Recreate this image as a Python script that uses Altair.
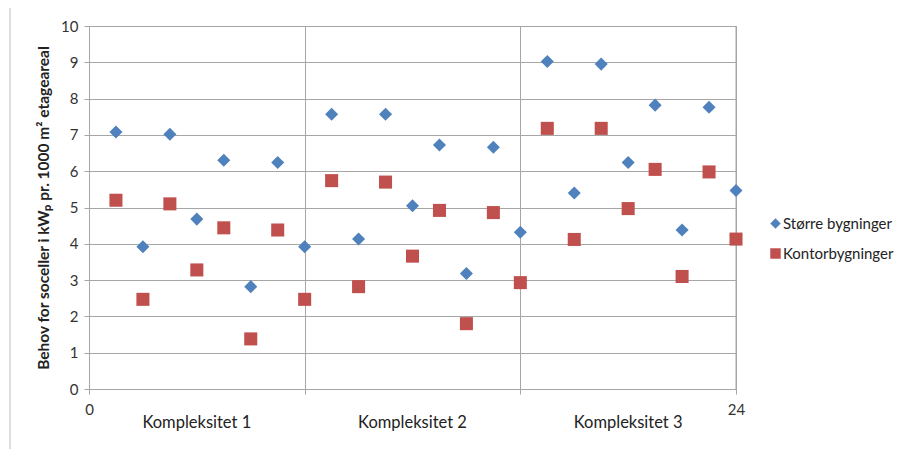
import altair as alt
import pandas as pd

x_pos = list(range(1, 25))
storre = [7.08, 3.92, 7.02, 4.68, 6.30, 2.82, 6.24, 3.92,
          7.57, 4.13, 7.57, 5.05, 6.72, 3.18, 6.66, 4.32,
          9.02, 5.40, 8.95, 6.24, 7.82, 4.38, 7.76, 5.47]
kontor = [5.20, 2.47, 5.10, 3.28, 4.44, 1.38, 4.38, 2.47,
          5.74, 2.82, 5.70, 3.66, 4.92, 1.80, 4.86, 2.93,
          7.18, 4.12, 7.18, 4.97, 6.05, 3.10, 5.98, 4.13]
series_names = ["Større bygninger", "Kontorbygninger"]
group_pos = [4, 12, 20]
group_labels = ["Kompleksitet 1", "Kompleksitet 2", "Kompleksitet 3"]

rows = []
for name, vals in zip(series_names, [storre, kontor]):
    for xv, yv in zip(x_pos, vals):
        rows.append({"x": xv, "y": yv, "serie": name})
df = pd.DataFrame(rows)
gdf = pd.DataFrame({"x": group_pos, "label": group_labels})

FONT = "Lato"
GRID = "#a6a6a6"

x_scale = alt.Scale(domain=[0, 24], nice=False, zero=False)
y_scale = alt.Scale(domain=[0, 10], nice=False)

legend_cfg = dict(title=None, orient="none", legendX=679, legendY=190,
                  labelFont=FONT, labelFontSize=15, labelColor="#222222",
                  symbolSize=110, rowPadding=14, padding=0, labelOffset=0,
                  labelLimit=200)

points = alt.Chart(df).mark_point(filled=True, opacity=1, size=170).encode(
    x=alt.X("x:Q", scale=x_scale, axis=alt.Axis(
        values=[0, 8, 16, 24], title=None, grid=True, gridColor=GRID,
        domain=False, tickColor=GRID, tickSize=5,
        labelExpr="(datum.value == 0 || datum.value == 24) ? datum.label : ''",
        labelFont=FONT, labelFontSize=15, labelColor="#333333", labelPadding=8,
        labelFlush=False)),
    y=alt.Y("y:Q", scale=y_scale, axis=alt.Axis(
        values=list(range(0, 11)), title="Behov for soceller i kWₚ pr. 1000 m² etageareal",
        grid=True, gridColor=GRID, domainColor=GRID, tickColor=GRID, tickSize=5,
        labelFont=FONT, labelFontSize=15, labelColor="#333333", labelPadding=6,
        titleFont=FONT, titleFontSize=15.5, titleFontWeight="bold", titleColor="#222222",
        titlePadding=9)),
    color=alt.Color("serie:N", scale=alt.Scale(domain=series_names, range=["#4F81BD", "#C0504D"]),
                    legend=alt.Legend(**legend_cfg)),
    shape=alt.Shape("serie:N", scale=alt.Scale(domain=series_names, range=["diamond", "square"]),
                    legend=alt.Legend(**legend_cfg)),
)

right_line = alt.Chart(pd.DataFrame({"x": [24]})).mark_rule(color=GRID).encode(
    x=alt.X("x:Q", scale=x_scale)
)

groups = alt.Chart(gdf).mark_text(font=FONT, fontSize=16.5, color="#222222", baseline="middle").encode(
    x=alt.X("x:Q", scale=x_scale),
    y=alt.value(397),
    text="label:N",
)

frame = alt.Chart(pd.DataFrame({"a": [0]})).mark_rect(
    fill=None, stroke="#bfbfbf", strokeWidth=1, clip=False
).encode(
    x=alt.value(-79), x2=alt.value(812), y=alt.value(-19), y2=alt.value(430)
)

chart = alt.layer(frame, right_line, points, groups).properties(
    width=647, height=363,
    autosize=alt.AutoSizeParams(type="none"),
    padding={"left": 81, "top": 18, "right": 161, "bottom": 60},
).configure_view(stroke=None).configure(background="white")

chart.save("out.html", embed_options={"renderer": "svg", "actions": False})
